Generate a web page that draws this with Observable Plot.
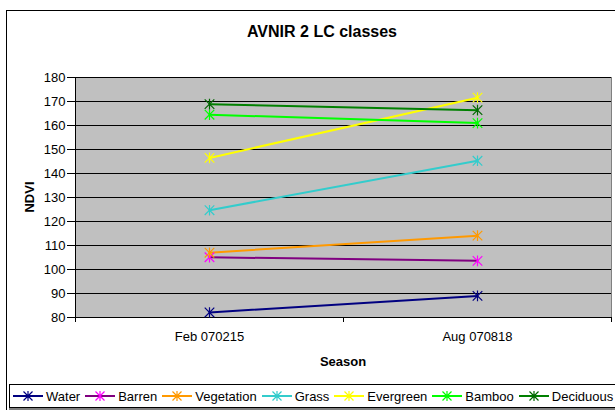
<!DOCTYPE html>
<html>
<head>
<meta charset="utf-8">
<script src="https://cdn.jsdelivr.net/npm/d3@7"></script>
<script src="https://cdn.jsdelivr.net/npm/@observablehq/plot@0.6"></script>
<style>
  html, body { margin: 0; padding: 0; background: #fff; }
  body { width: 615px; height: 410px; overflow: hidden; font-family: "Liberation Sans", Arial, sans-serif; }
  #wrap { position: relative; width: 615px; height: 410px; }
  #outer { position: absolute; left: 6px; top: 10px; width: 630px; height: 420px; border: 1px solid #000; box-sizing: border-box; }
  #chart { position: absolute; left: 0; top: 0; }
  .title { position: absolute; left: 322px; top: 32px; transform: translate(-50%, -50%); white-space: nowrap; font-weight: bold; font-size: 16px; color: #000; }
  .xlab { position: absolute; left: 343px; top: 361px; transform: translate(-50%, -50%); font-weight: bold; font-size: 13px; }
  .ylab { position: absolute; left: 29px; top: 197px; font-weight: bold; font-size: 13px; transform: translate(-50%, -50%) rotate(-90deg); }
  #legend { position: absolute; left: 9px; top: 384px; width: 630px; height: 24px; border: 1px solid #000; box-sizing: border-box; display: flex; align-items: center; padding-left: 3px; box-shadow: 0 2px 0 #808080; }
  .item { display: flex; align-items: center; margin-right: 5px; font-size: 13px; }
  .item svg { margin-right: 3px; }
</style>
</head>
<body>
<div id="wrap">
  <div id="outer"></div>
  <div id="chart"></div>
  <div class="title">AVNIR 2 LC classes</div>
  <div class="ylab">NDVI</div>
  <div class="xlab">Season</div>
  <div id="legend"></div>
</div>
<script>
const categories = ["Feb 070215", "Aug 070818"];
const seriesNames = ["Water", "Barren", "Vegetation", "Grass", "Evergreen", "Bamboo", "Deciduous"];
const water      = [82.1, 89.0];
const barren     = [105.1, 103.6];
const vegetation = [107.0, 114.1];
const grass      = [124.7, 145.3];
const evergreen  = [146.5, 171.6];
const bamboo     = [164.5, 161.0];
const deciduous  = [168.9, 166.4];
const lineColors   = ["#000080", "#800080", "#FF9900", "#33CCCC", "#FFFF00", "#00FF00", "#008000"];
const markerColors = ["#000080", "#FF00FF", "#FF9900", "#33CCCC", "#FFFF00", "#00FF00", "#006600"];
const yTicks = [80, 90, 100, 110, 120, 130, 140, 150, 160, 170, 180];

// Excel-style star marker: vertical stroke plus an X
const excelStar = {
  draw(context, size) {
    const r = Math.sqrt(size) / 2;
    const d = r * 0.9;
    context.moveTo(0, -r); context.lineTo(0, r);
    context.moveTo(-d, -d); context.lineTo(d, d);
    context.moveTo(-d, d); context.lineTo(d, -d);
  }
};

const seriesValues = [water, barren, vegetation, grass, evergreen, bamboo, deciduous];
const data = [];
seriesNames.forEach((s, si) => {
  seriesValues[si].forEach((v, ci) => {
    data.push({series: s, cat: ci + 0.5, value: v, lc: lineColors[si], mc: markerColors[si]});
  });
});

const chart = Plot.plot({
  width: 615,
  height: 410,
  marginTop: 77,
  marginRight: 4,
  marginBottom: 93,
  marginLeft: 75,
  style: {fontFamily: '"Liberation Sans", Arial, sans-serif', fontSize: "13px", background: "transparent", color: "#000"},
  x: {domain: [0, categories.length], axis: null},
  y: {domain: [80, 180], axis: null},
  color: {type: "identity"},
  marks: [
    Plot.frame({fill: "#C0C0C0", stroke: "#808080"}),
    Plot.gridY(yTicks, {stroke: "#000", strokeOpacity: 1, strokeWidth: 1}),
    Plot.ruleX([0], {stroke: "#000"}),
    Plot.ruleY([80], {stroke: "#000"}),
    Plot.axisY(yTicks, {tickSize: 8, tickPadding: 2, label: null, stroke: "#000", fontSize: 13}),
    Plot.axisX(d3.range(categories.length + 1), {tickSize: 5, tickFormat: () => "", label: null, stroke: "#000"}),
    Plot.axisX(categories.map((c, i) => i + 0.5), {tickSize: 0, tickPadding: 14, tickFormat: d => categories[Math.floor(d)], label: null, fontSize: 13}),
    Plot.line(data, {x: "cat", y: "value", z: "series", stroke: "lc", strokeWidth: 2}),
    Plot.dot(data, {x: "cat", y: "value", symbol: excelStar, stroke: "mc", r: 6, strokeWidth: 1.2})
  ]
});
document.getElementById("chart").appendChild(chart);

const legend = d3.select("#legend");
seriesNames.forEach((s, i) => {
  const item = legend.append("div").attr("class", "item");
  const svg = item.append("svg").attr("width", 30).attr("height", 12);
  svg.append("line").attr("x1", 0).attr("x2", 30).attr("y1", 6).attr("y2", 6)
     .attr("stroke", lineColors[i]).attr("stroke-width", 2);
  svg.append("path").attr("transform", "translate(15,6)")
     .attr("d", d3.symbol(excelStar, 100)())
     .attr("stroke", markerColors[i]).attr("stroke-width", 1.2).attr("fill", "none");
  item.append("span").text(s);
});
</script>
</body>
</html>
